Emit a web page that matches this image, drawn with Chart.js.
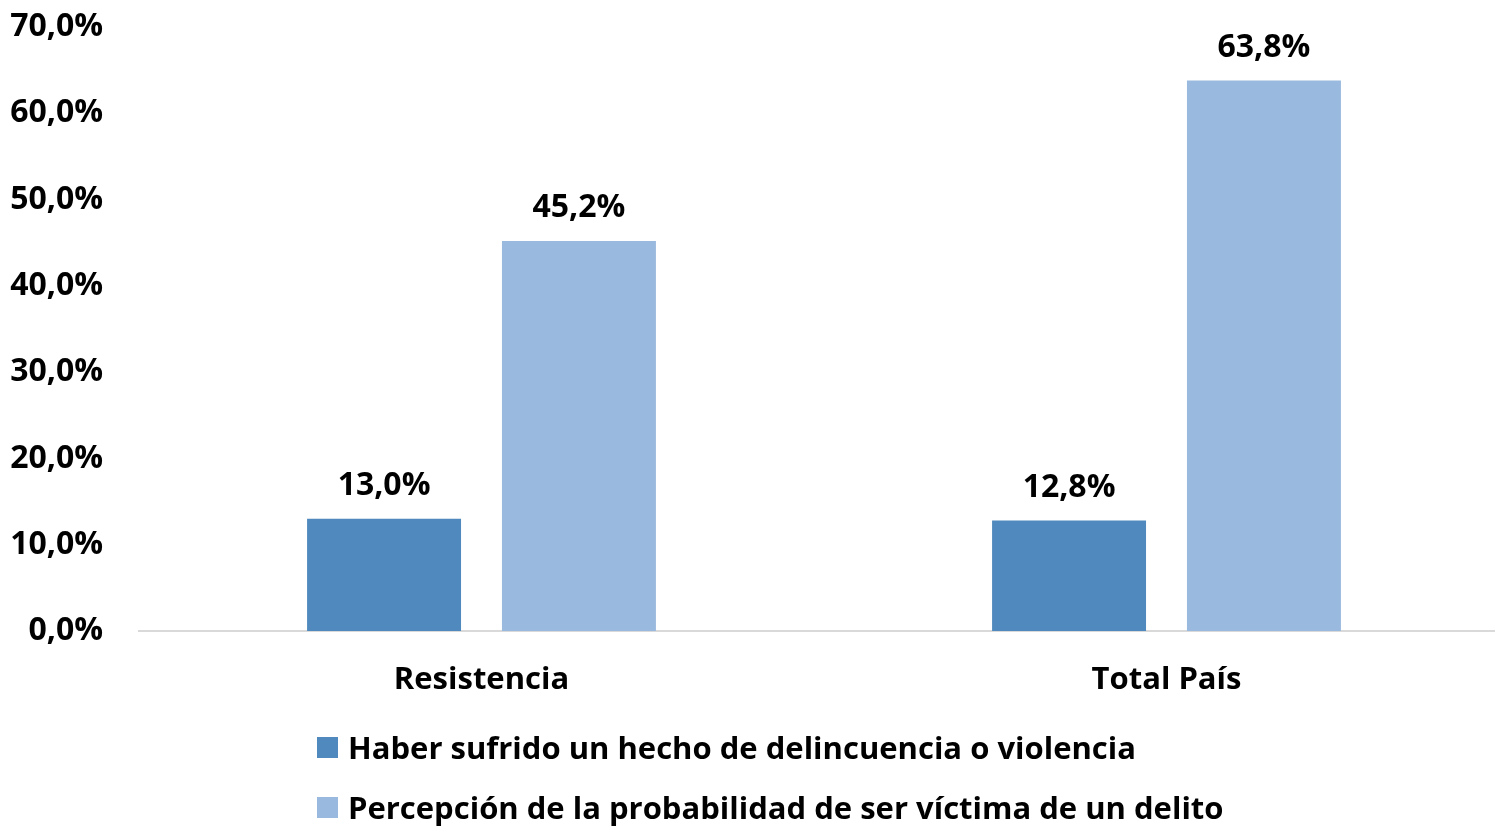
<!DOCTYPE html>
<html>
<head>
<meta charset="utf-8">
<script src="https://cdn.jsdelivr.net/npm/chart.js@4/dist/chart.umd.min.js"></script>
<style>
  html, body { margin: 0; padding: 0; background: #fff; overflow: hidden; }
  #wrap { position: relative; width: 1509px; height: 826px; }
  #legend { position: absolute; left: 317px; top: 717px; font-family: "Open Sans", sans-serif; font-weight: bold; font-size: 31px; color: #000; }
  .lg-row { display: flex; align-items: center; height: 60px; white-space: nowrap; }
  .lg-box { width: 21px; height: 21px; margin-right: 10px; }
</style>
</head>
<body>
<div id="wrap">
  <canvas id="chart" width="1509" height="826"></canvas>
  <div id="legend"></div>
</div>
<script>
// === DATA ===
var categories = ['Resistencia', 'Total País'];
var seriesNames = [
  'Haber sufrido un hecho de delincuencia o violencia',
  'Percepción de la probabilidad de ser víctima de un delito'
];
var victimValues = [13.0, 12.8];
var perceptionValues = [45.2, 63.8];
var seriesColors = ['#4F89BD', '#99B9DF'];
var yTicks = [0, 10, 20, 30, 40, 50, 60, 70];

var FONT = '"Open Sans", sans-serif';

function pct(v) { return v.toFixed(1).replace('.', ',') + '%'; }

// Draw value labels above each bar
var barLabels = {
  id: 'barLabels',
  afterDatasetsDraw: function(chart) {
    var ctx = chart.ctx;
    ctx.save();
    ctx.font = 'bold 32px ' + FONT;
    ctx.fillStyle = '#000';
    ctx.textAlign = 'center';
    ctx.textBaseline = 'middle';
    chart.data.datasets.forEach(function(ds, i) {
      chart.getDatasetMeta(i).data.forEach(function(bar, j) {
        ctx.fillText(pct(ds.data[j]), bar.x, bar.y - 33);
      });
    });
    ctx.restore();
  }
};

var chart = new Chart(document.getElementById('chart').getContext('2d'), {
  type: 'bar',
  data: {
    labels: categories,
    datasets: [
      { label: seriesNames[0], data: victimValues, backgroundColor: seriesColors[0] },
      { label: seriesNames[1], data: perceptionValues, backgroundColor: seriesColors[1] }
    ]
  },
  options: {
    responsive: false, animation: false,
    layout: { padding: { top: 27, left: 0, right: 0, bottom: 0 } },
    datasets: { bar: { categoryPercentage: 0.569, barPercentage: 0.79 } },
    plugins: { legend: { display: false }, tooltip: { enabled: false } },
    scales: {
      x: {
        grid: { display: false, drawTicks: false },
        border: { display: true, color: '#D9D9D9', width: 2 },
        ticks: { padding: 31, color: '#000', font: { family: FONT, size: 31, weight: 'bold' } },
        afterFit: function(s) { s.height = 826 - 631; }
      },
      y: {
        min: 0, max: 70,
        grid: { display: false, drawTicks: false },
        border: { display: false },
        afterBuildTicks: function(s) { s.ticks = yTicks.map(function(v) { return { value: v }; }); },
        ticks: { padding: 36, color: '#000', font: { family: FONT, size: 32, weight: 'bold' },
          callback: function(v) { return pct(v); } },
        afterFit: function(s) { s.width = 139; s.paddingTop = 0; s.paddingBottom = 0; }
      }
    }
  },
  plugins: [barLabels]
});

// === LEGEND ===
var lg = document.getElementById('legend');
seriesNames.forEach(function(name, i) {
  lg.innerHTML += '<div class="lg-row"><span class="lg-box" style="background:' + seriesColors[i] + '"></span>' + name + '</div>';
});
</script>
</body>
</html>
